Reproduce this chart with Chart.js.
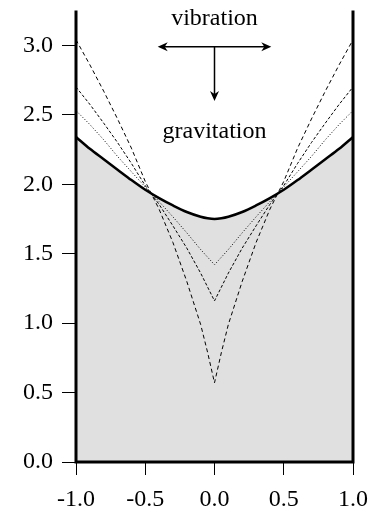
<!DOCTYPE html>
<html>
<head>
<meta charset="utf-8">
<script src="https://cdn.jsdelivr.net/npm/chart.js@4"></script>
<style>
  body { margin: 0; background: #fff; }
  canvas { display: block; }
</style>
</head>
<body>
<canvas id="chart" width="371" height="510"></canvas>
<script>
// Datos
const xValues = [-1, -0.9, -0.8, -0.7, -0.6, -0.5, -0.4, -0.3, -0.2, -0.1, -0.05, 0,
                 0.05, 0.1, 0.2, 0.3, 0.4, 0.5, 0.6, 0.7, 0.8, 0.9, 1];

// superficie (linea gruesa, rellena)
const surface = [2.34, 2.255, 2.18, 2.105, 2.03, 1.96, 1.90, 1.847, 1.80, 1.766, 1.755, 1.75,
                 1.755, 1.766, 1.80, 1.847, 1.90, 1.96, 2.03, 2.105, 2.18, 2.255, 2.34];
// curvas discontinuas
const curveA = [3.04, 2.86, 2.67, 2.47, 2.26, 2.02, 1.82, 1.58, 1.30, 0.99, 0.79, 0.57,
                0.79, 0.99, 1.30, 1.58, 1.82, 2.02, 2.26, 2.47, 2.67, 2.86, 3.04];
const curveB = [2.70, 2.575, 2.44, 2.30, 2.15, 1.99, 1.855, 1.70, 1.54, 1.36, 1.26, 1.16,
                1.26, 1.36, 1.54, 1.70, 1.855, 1.99, 2.15, 2.30, 2.44, 2.575, 2.70];
const curveC = [2.53, 2.43, 2.32, 2.20, 2.09, 1.98, 1.875, 1.765, 1.65, 1.53, 1.475, 1.42,
                1.475, 1.53, 1.65, 1.765, 1.875, 1.98, 2.09, 2.20, 2.32, 2.43, 2.53];

const xTicks = [-1, -0.5, 0, 0.5, 1];
const yTicks = [0, 0.5, 1, 1.5, 2, 2.5, 3];

const labelTop = 'vibration';
const labelBottom = 'gravitation';

const serif = 'Liberation Serif';

function pts(ys) {
    return xValues.map((x, i) => ({ x: x, y: ys[i] }));
}

// paredes y flechas
const decorPlugin = {
    id: 'decor',
    afterDatasetsDraw(chart) {
        const { ctx, chartArea: a, scales } = chart;
        ctx.save();
        ctx.strokeStyle = '#000';
        ctx.lineWidth = 3;
        ctx.lineCap = 'square';
        ctx.beginPath();
        ctx.moveTo(a.left, a.top);
        ctx.lineTo(a.left, a.bottom);
        ctx.lineTo(a.right, a.bottom);
        ctx.lineTo(a.right, a.top);
        ctx.stroke();

        const sx = scales.x, sy = scales.y;
        const cx = sx.getPixelForValue(0);
        const ay = sy.getPixelForValue(2.99);
        const x1 = sx.getPixelForValue(-0.41);
        const x2 = sx.getPixelForValue(0.41);
        const yEnd = sy.getPixelForValue(2.60);

        ctx.lineWidth = 1.5;
        ctx.lineCap = 'butt';
        ctx.beginPath();
        ctx.moveTo(x1 + 4, ay);
        ctx.lineTo(x2 - 4, ay);
        ctx.moveTo(cx, ay);
        ctx.lineTo(cx, yEnd - 4);
        ctx.stroke();

        function head(tx, ty, dx, dy) {
            const L = 10, W = 4.5;
            const px = -dy, py = dx;
            ctx.beginPath();
            ctx.moveTo(tx, ty);
            ctx.lineTo(tx - dx * L + px * W, ty - dy * L + py * W);
            ctx.lineTo(tx - dx * L * 0.7, ty - dy * L * 0.7);
            ctx.lineTo(tx - dx * L - px * W, ty - dy * L - py * W);
            ctx.closePath();
            ctx.fillStyle = '#000';
            ctx.fill();
        }
        head(x1, ay, -1, 0);
        head(x2, ay, 1, 0);
        head(cx, yEnd, 0, 1);

        ctx.font = '24px "' + serif + '"';
        ctx.fillStyle = '#000';
        ctx.textAlign = 'center';
        ctx.textBaseline = 'middle';
        ctx.fillText(labelTop, cx, sy.getPixelForValue(3.19));
        ctx.fillText(labelBottom, cx, sy.getPixelForValue(2.375));
        ctx.restore();
    }
};

const ctx = document.getElementById('chart').getContext('2d');
new Chart(ctx, {
    type: 'line',
    data: {
        datasets: [
            {
                data: pts(surface),
                borderColor: '#000',
                borderWidth: 2.5,
                backgroundColor: '#e0e0e0',
                fill: 'start',
                cubicInterpolationMode: 'monotone',
                pointRadius: 0
            },
            {
                data: pts(curveC),
                borderColor: '#000',
                borderWidth: 1,
                borderDash: [1, 2],
                fill: false,
                tension: 0,
                pointRadius: 0
            },
            {
                data: pts(curveB),
                borderColor: '#000',
                borderWidth: 1,
                borderDash: [3, 2],
                fill: false,
                tension: 0,
                pointRadius: 0
            },
            {
                data: pts(curveA),
                borderColor: '#000',
                borderWidth: 1,
                borderDash: [4, 3],
                fill: false,
                tension: 0,
                pointRadius: 0
            }
        ]
    },
    options: {
        responsive: false,
        animation: false,
        layout: { padding: { top: 12, right: 18, left: 0, bottom: 0 } },
        plugins: {
            legend: { display: false },
            tooltip: { enabled: false },
            filler: { drawTime: 'beforeDatasetsDraw' }
        },
        scales: {
            x: {
                type: 'linear',
                min: -1,
                max: 1,
                afterBuildTicks: (s) => { s.ticks = xTicks.map(v => ({ value: v })); },
                afterFit: (s) => { s.height = 48; s.paddingLeft = 0; s.paddingRight = 0; },
                border: { display: false },
                grid: { drawOnChartArea: false, drawTicks: true, tickLength: 13, color: '#000', lineWidth: 1 },
                ticks: {
                    color: '#000',
                    padding: 10,
                    maxRotation: 0,
                    font: { family: serif, size: 24 },
                    callback: (v) => v.toFixed(1)
                }
            },
            y: {
                type: 'linear',
                min: 0,
                max: 3.24,
                afterBuildTicks: (s) => { s.ticks = yTicks.map(v => ({ value: v })); },
                afterFit: (s) => { s.width = 76; s.paddingTop = 0; s.paddingBottom = 0; },
                border: { display: false },
                grid: { drawOnChartArea: false, drawTicks: true, tickLength: 14, color: '#000', lineWidth: 1 },
                ticks: {
                    color: '#000',
                    padding: 9,
                    font: { family: serif, size: 24 },
                    callback: (v) => v.toFixed(1)
                }
            }
        }
    },
    plugins: [decorPlugin]
});
</script>
</body>
</html>
